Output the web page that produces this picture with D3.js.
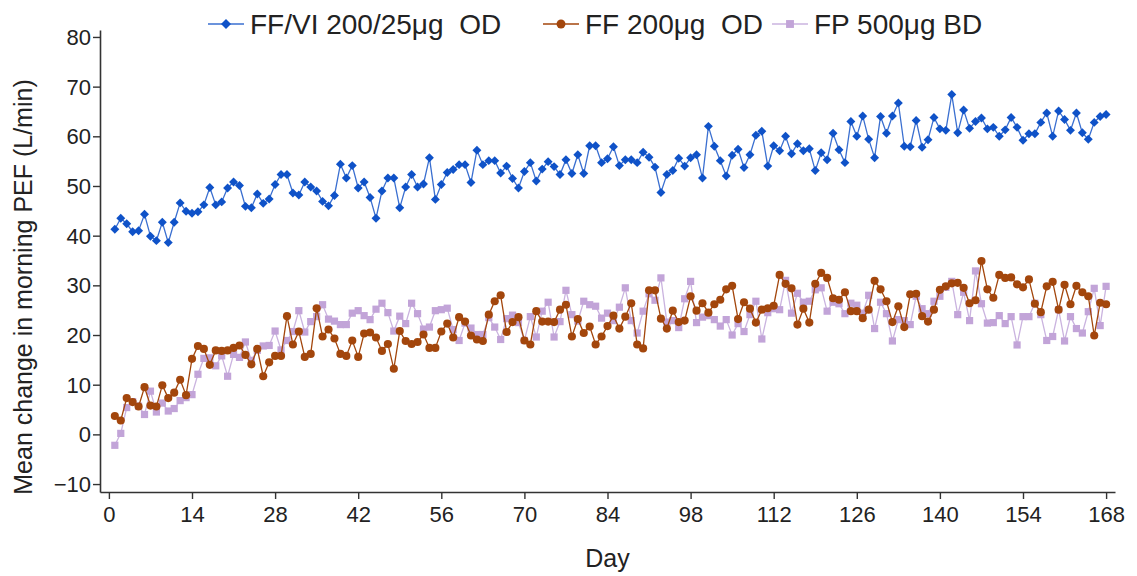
<!DOCTYPE html>
<html>
<head>
<meta charset="utf-8">
<script src="https://cdn.jsdelivr.net/npm/d3@7"></script>
<style>
  body { margin: 0; background: #fff; }
  svg { font-family: "Liberation Sans", Arial, sans-serif; }
</style>
</head>
<body>
<main></main>
<script>
// data: mean change in morning PEF (L/min), one value per day, days 1..168
const seriesNames = ["FF/VI 200/25\u03bcg  OD", "FF 200\u03bcg  OD", "FP 500\u03bcg BD"];

const ffvi = [
  41.3, 43.5, 42.4, 40.8, 41.0, 44.3, 39.9, 39.0, 42.7, 38.6,
  42.7, 46.6, 44.9, 44.5, 44.8, 46.2, 49.7, 46.2, 46.8, 49.6,
  50.8, 50.1, 45.9, 45.6, 48.4, 46.5, 47.4, 50.3, 52.3, 52.3,
  48.6, 48.2, 50.8, 49.8, 49.0, 46.9, 46.0, 48.1, 54.4, 51.6,
  54.1, 49.6, 50.8, 47.7, 43.5, 49.0, 51.6, 51.6, 45.6, 49.8,
  52.3, 49.8, 50.4, 55.7, 47.3, 50.3, 52.7, 53.3, 54.3, 54.3,
  50.7, 57.2, 54.3, 55.1, 55.1, 52.6, 54.0, 51.5, 49.6, 52.9,
  54.7, 51.0, 53.4, 54.9, 53.9, 52.3, 55.3, 52.5, 56.3, 52.5,
  58.1, 58.1, 54.7, 55.5, 57.9, 54.1, 55.3, 55.3, 54.7, 56.8,
  55.8, 53.8, 48.7, 52.3, 53.1, 55.6, 54.0, 55.7, 56.3, 51.6,
  62.0, 58.0, 55.1, 52.0, 56.2, 57.4, 53.7, 56.3, 60.2, 61.0,
  54.0, 58.1, 57.1, 60.0, 56.5, 58.5, 57.1, 57.5, 53.1, 56.7,
  55.3, 60.6, 57.3, 54.7, 63.0, 60.0, 64.1, 59.4, 55.7, 64.0,
  60.6, 64.1, 66.7, 58.0, 57.9, 63.2, 57.8, 59.3, 63.8, 61.5,
  61.2, 68.4, 60.7, 65.3, 61.6, 63.0, 63.7, 61.5, 61.8, 60.0,
  61.3, 63.8, 61.8, 59.2, 60.5, 60.5, 62.8, 64.7, 60.0, 65.1,
  63.4, 61.2, 64.7, 60.7, 59.4, 62.8, 64.0, 64.4
];

const ff = [
  3.7, 2.8, 7.3, 6.5, 5.6, 9.5, 5.8, 5.6, 9.9, 7.3,
  8.4, 11.0, 7.9, 15.2, 17.8, 17.2, 14.0, 16.9, 16.8, 16.9,
  17.4, 17.9, 16.0, 14.1, 17.2, 11.7, 14.5, 15.8, 15.8, 23.8,
  18.1, 20.7, 15.6, 16.2, 25.4, 19.7, 21.1, 19.3, 16.2, 15.8,
  18.9, 15.6, 20.3, 20.5, 19.5, 16.8, 18.2, 13.2, 20.8, 18.8,
  18.2, 18.6, 20.1, 17.4, 17.4, 20.7, 22.3, 19.5, 23.6, 22.7,
  19.9, 19.1, 18.8, 24.1, 26.8, 28.0, 20.6, 22.6, 23.6, 18.9,
  18.1, 24.8, 22.7, 22.7, 22.6, 25.1, 26.1, 19.7, 23.2, 20.4,
  21.7, 18.1, 19.7, 21.8, 23.9, 21.3, 23.7, 26.4, 18.1, 17.3,
  29.0, 29.0, 23.3, 21.3, 24.9, 22.6, 22.9, 27.8, 24.9, 26.4,
  24.5, 26.2, 27.1, 29.2, 29.9, 23.2, 26.6, 25.3, 22.5, 25.1,
  25.4, 25.9, 32.1, 30.3, 29.4, 22.1, 25.3, 22.5, 30.3, 32.5,
  31.5, 27.4, 27.1, 28.6, 24.8, 24.8, 23.4, 25.1, 30.9, 29.2,
  26.8, 22.6, 25.8, 21.6, 28.2, 28.3, 23.8, 22.7, 25.1, 29.1,
  29.8, 30.4, 30.5, 29.5, 26.4, 27.0, 34.9, 29.2, 27.5, 32.1,
  31.5, 31.6, 30.2, 29.6, 31.2, 26.3, 24.6, 29.8, 30.7, 25.1,
  30.1, 26.2, 29.9, 28.6, 27.8, 19.9, 26.5, 26.2
];

const fp = [
  -2.2, 0.2, 5.4, 6.6, 5.7, 4.0, 8.7, 4.5, 6.3, 4.7,
  5.2, 6.8, 7.4, 8.0, 12.1, 15.3, 15.4, 13.8, 15.8, 11.7,
  16.1, 15.5, 18.6, 14.9, 16.9, 17.8, 17.9, 20.8, 17.0, 18.9,
  20.7, 24.9, 20.6, 22.7, 23.7, 26.1, 23.2, 22.8, 22.1, 22.1,
  24.4, 24.9, 23.9, 23.1, 25.2, 26.4, 24.5, 20.8, 23.8, 22.3,
  26.4, 24.3, 21.2, 21.6, 24.9, 25.1, 25.4, 21.1, 18.9, 22.4,
  21.4, 20.1, 20.1, 23.5, 21.6, 19.1, 23.3, 24.0, 22.5, 18.9,
  23.7, 19.6, 24.8, 26.6, 19.6, 22.7, 29.0, 24.1, 22.8, 26.8,
  26.1, 25.8, 23.4, 24.4, 22.9, 25.6, 29.5, 22.9, 20.4, 24.8,
  28.3, 27.0, 31.5, 22.6, 22.9, 21.5, 27.3, 30.8, 22.5, 23.6,
  23.9, 23.1, 21.8, 23.1, 20.0, 22.3, 20.7, 24.1, 26.8, 19.2,
  24.5, 25.3, 25.1, 31.0, 24.4, 28.4, 26.6, 26.8, 29.1, 29.5,
  24.8, 26.6, 26.3, 24.3, 26.4, 26.0, 24.4, 28.0, 21.3, 26.6,
  24.3, 18.8, 23.1, 22.9, 22.1, 27.8, 25.3, 24.3, 26.8, 27.8,
  29.6, 30.8, 24.1, 28.6, 22.9, 32.9, 26.3, 22.4, 22.5, 23.9,
  22.3, 23.7, 18.0, 23.7, 23.7, 26.4, 24.1, 18.9, 19.7, 25.1,
  18.8, 23.7, 21.3, 20.4, 24.7, 29.4, 21.9, 29.8
];

const xTicks = [0, 14, 28, 42, 56, 70, 84, 98, 112, 126, 140, 154, 168];
const yTicks = [-10, 0, 10, 20, 30, 40, 50, 60, 70, 80];

const colors = ["#0f52c8", "#a3460c", "#c2a4d8"];
const lineColors = ["#3a6fd0", "#a3460c", "#cab3df"];

// dimensions
const width = 1137;
const height = 576;

const svg = d3.select("main")
  .append("svg")
  .attr("width", width)
  .attr("height", height);

const x = d3.scaleLinear().domain([-1.5, 169.5]).range([100, 1115]);
const y = d3.scaleLinear().domain([-11.6, 81.4]).range([492, 30]);

// axes
const xAxis = svg.append("g")
  .attr("transform", `translate(0, ${y(-11.6)})`)
  .call(d3.axisBottom(x).tickValues(xTicks).tickSize(7).tickSizeOuter(0));
const yAxis = svg.append("g")
  .attr("transform", `translate(${x(-1.5)}, 0)`)
  .call(d3.axisLeft(y).tickValues(yTicks).tickSize(7).tickSizeOuter(0));

[xAxis, yAxis].forEach(g => {
  g.select(".domain").attr("stroke", "#333").attr("stroke-width", 1.6);
  g.selectAll(".tick line").attr("stroke", "#333").attr("stroke-width", 1.4);
  g.selectAll(".tick text")
    .attr("fill", "#222")
    .style("font-size", "22px")
    .style("font-family", "'Liberation Sans', Arial, sans-serif");
});
xAxis.selectAll(".tick text").attr("dy", "0.9em");
yAxis.selectAll(".tick text").attr("x", -9).attr("dy", "0.34em");

svg.append("text")
  .attr("x", x(84))
  .attr("y", 567)
  .attr("text-anchor", "middle")
  .attr("fill", "#222")
  .style("font-size", "25px")
  .text("Day");

svg.append("text")
  .attr("transform", `translate(32, 287) rotate(-90)`)
  .attr("text-anchor", "middle")
  .attr("fill", "#222")
  .style("font-size", "25px")
  .text("Mean change in morning PEF (L/min)");

// lines and markers
const line = d3.line()
  .x((d, i) => x(i + 1))
  .y(d => y(d));

const allSeries = [fp, ff, ffvi];
const seriesIdx = [2, 1, 0];
const shapes = [d3.symbolSquare, d3.symbolCircle, d3.symbolSquare];
const sizes = [40, 52, 52];
const rotations = [45, 0, 0];

allSeries.forEach((vals, k) => {
  const s = seriesIdx[k];
  const g = svg.append("g");
  g.append("path")
    .datum(vals)
    .attr("d", line)
    .attr("fill", "none")
    .attr("stroke", lineColors[s])
    .attr("stroke-width", 1.3);
  g.selectAll("path.pt")
    .data(vals)
    .enter()
    .append("path")
    .attr("class", "pt")
    .attr("transform", (d, i) => `translate(${x(i + 1)}, ${y(d)}) rotate(${rotations[s]})`)
    .attr("d", d3.symbol().type(shapes[s]).size(sizes[s]))
    .attr("fill", colors[s]);
});

// legend
const legendX = [208, 543, 772];
const legend = svg.append("g");
seriesNames.forEach((name, s) => {
  const lg = legend.append("g").attr("transform", `translate(${legendX[s]}, 24)`);
  lg.append("line")
    .attr("x1", 0).attr("x2", 36)
    .attr("stroke", lineColors[s])
    .attr("stroke-width", 1.5);
  lg.append("path")
    .attr("transform", `translate(18, 0) rotate(${rotations[s]})`)
    .attr("d", d3.symbol().type(shapes[s]).size(sizes[s] + 10))
    .attr("fill", colors[s]);
  lg.append("text")
    .attr("x", 42)
    .attr("y", 10)
    .attr("fill", "#222")
    .attr("xml:space", "preserve")
    .style("white-space", "pre")
    .style("font-size", "28px")
    .text(name);
});
</script>
</body>
</html>
